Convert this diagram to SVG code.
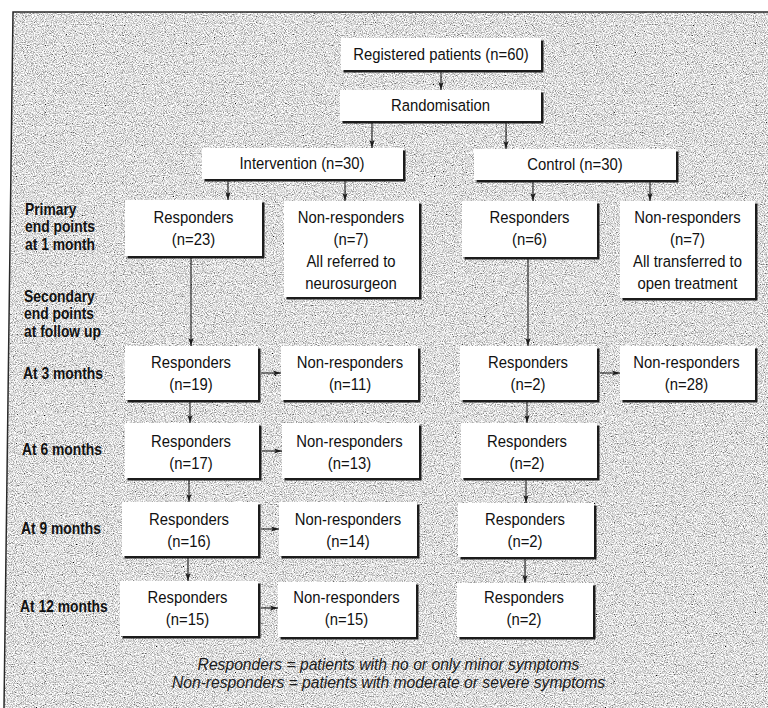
<svg xmlns="http://www.w3.org/2000/svg" width="768" height="708" viewBox="0 0 768 708">
<style>
  .bx{fill:#ffffff}
  .sh{fill:#1c1c1c}
  .t{font-family:"Liberation Sans",Arial,sans-serif;font-size:16.5px;fill:#111;text-anchor:middle}
  .lb{font-family:"Liberation Sans",Arial,sans-serif;font-size:16.5px;font-weight:bold;fill:#111}
  .fn{font-family:"Liberation Sans",Arial,sans-serif;font-size:16px;font-style:italic;fill:#1a1a1a;text-anchor:middle}
  .c line{stroke:#1c1c1c;stroke-width:1.1;fill:none;marker-end:url(#ah)}
</style>
<defs>
  <marker id="ah" viewBox="0 0 8 6" markerWidth="8" markerHeight="6" refX="8" refY="3" orient="auto" markerUnits="userSpaceOnUse">
    <path d="M0,0.4 L8,3 L0,5.6 L1.8,3 Z" fill="#1c1c1c"/>
  </marker>
  <filter id="grain" x="0" y="0" width="1" height="1">
    <feTurbulence type="fractalNoise" baseFrequency="0.9" numOctaves="2" seed="7" result="n"/>
    <feColorMatrix in="n" type="matrix" values="1.9 0 0 0 -0.22  1.9 0 0 0 -0.22  1.9 0 0 0 -0.22  0 0 0 0 1" result="g"/>
    <feComposite in="g" in2="SourceGraphic" operator="in"/>
  </filter>
</defs>
<rect width="768" height="708" fill="#ffffff"/>
<polygon points="13,12 768,12 768,708 4,708" fill="#bcbcbc" filter="url(#grain)"/>
<polyline points="4,708 13,12 768,12" fill="none" stroke="#2a2a2a" stroke-width="1.5"/>

<g id="labels">
  <text class="lb" transform="translate(25,0) scale(0.84,1)"><tspan x="0" y="215">Primary</tspan><tspan x="0" y="232.5">end points</tspan><tspan x="0" y="250">at 1 month</tspan></text>
  <text class="lb" transform="translate(24,0) scale(0.84,1)"><tspan x="0" y="302">Secondary</tspan><tspan x="0" y="319.5">end points</tspan><tspan x="0" y="337">at follow up</tspan></text>
  <text class="lb" transform="translate(23,0) scale(0.84,1)" x="0" y="379">At 3 months</text>
  <text class="lb" transform="translate(22,0) scale(0.84,1)" x="0" y="455">At 6 months</text>
  <text class="lb" transform="translate(21,0) scale(0.84,1)" x="0" y="534">At 9 months</text>
  <text class="lb" transform="translate(20,0) scale(0.84,1)" x="0" y="612">At 12 months</text>
</g>

<g id="connectors" class="c">
  <line x1="441" y1="72" x2="441" y2="90"/>
  <line x1="372" y1="123" x2="372" y2="148"/>
  <line x1="506" y1="123" x2="506" y2="149"/>
  <line x1="228" y1="180" x2="228" y2="200"/>
  <line x1="345" y1="180" x2="345" y2="201"/>
  <line x1="533" y1="182" x2="533" y2="201"/>
  <line x1="650" y1="182" x2="650" y2="201"/>
  <line x1="191" y1="258" x2="191" y2="346"/>
  <line x1="528" y1="258" x2="528" y2="346"/>
  <line x1="190" y1="402" x2="190" y2="423"/>
  <line x1="189" y1="480" x2="189" y2="502"/>
  <line x1="188" y1="558" x2="188" y2="581"/>
  <line x1="527" y1="402" x2="527" y2="423"/>
  <line x1="526" y1="480" x2="526" y2="503"/>
  <line x1="525" y1="558" x2="525" y2="583"/>
  <line x1="261" y1="373" x2="281" y2="373"/>
  <line x1="600" y1="373" x2="620" y2="373"/>
  <line x1="262" y1="451" x2="282" y2="451"/>
  <line x1="261" y1="529" x2="279" y2="529"/>
  <line x1="261" y1="608" x2="278" y2="608"/>
</g>

<g id="n_registered"><rect class="sh" x="343.5" y="40.5" width="200" height="32"/><rect class="bx" x="341" y="38" width="200" height="32"/>
  <text class="t" transform="translate(441,0) scale(0.9,1)" x="0" y="60">Registered patients (n=60)</text></g>
<g id="n_random"><rect class="sh" x="342.5" y="92.5" width="201" height="31"/><rect class="bx" x="340" y="90" width="201" height="31"/>
  <text class="t" transform="translate(440.5,0) scale(0.9,1)" x="0" y="111">Randomisation</text></g>
<g id="n_intervention"><rect class="sh" x="204.5" y="150.5" width="201" height="31"/><rect class="bx" x="202" y="148" width="201" height="31"/>
  <text class="t" transform="translate(302,0) scale(0.9,1)" x="0" y="169">Intervention (n=30)</text></g>
<g id="n_control"><rect class="sh" x="476.5" y="151.5" width="202" height="31"/><rect class="bx" x="474" y="149" width="202" height="31"/>
  <text class="t" transform="translate(575,0) scale(0.9,1)" x="0" y="170">Control (n=30)</text></g>

<g id="n_int_r1"><rect class="sh" x="127.5" y="202.5" width="137" height="56"/><rect class="bx" x="125" y="200" width="137" height="56"/>
  <text class="t" transform="translate(193.5,0) scale(0.9,1)"><tspan x="0" y="223">Responders</tspan><tspan x="0" y="245">(n=23)</tspan></text></g>
<g id="n_int_nr1"><rect class="sh" x="286.5" y="203.5" width="135" height="96"/><rect class="bx" x="284" y="201" width="135" height="96"/>
  <text class="t" transform="translate(351,0) scale(0.9,1)"><tspan x="0" y="223">Non-responders</tspan><tspan x="0" y="245">(n=7)</tspan><tspan x="0" y="267">All referred to</tspan><tspan x="0" y="289">neurosurgeon</tspan></text></g>
<g id="n_ctl_r1"><rect class="sh" x="464.5" y="203.5" width="135" height="56"/><rect class="bx" x="462" y="201" width="135" height="56"/>
  <text class="t" transform="translate(529.5,0) scale(0.9,1)"><tspan x="0" y="223">Responders</tspan><tspan x="0" y="245">(n=6)</tspan></text></g>
<g id="n_ctl_nr1"><rect class="sh" x="622.5" y="203.5" width="135" height="97"/><rect class="bx" x="620" y="201" width="135" height="97"/>
  <text class="t" transform="translate(687.5,0) scale(0.9,1)"><tspan x="0" y="223">Non-responders</tspan><tspan x="0" y="245">(n=7)</tspan><tspan x="0" y="267">All transferred to</tspan><tspan x="0" y="289">open treatment</tspan></text></g>

<g id="n_int_r3"><rect class="sh" x="127.5" y="348.5" width="133" height="54"/><rect class="bx" x="125" y="346" width="133" height="54"/>
  <text class="t" transform="translate(191,0) scale(0.9,1)"><tspan x="0" y="368">Responders</tspan><tspan x="0" y="390">(n=19)</tspan></text></g>
<g id="n_int_nr3"><rect class="sh" x="283.5" y="348.5" width="137" height="54"/><rect class="bx" x="281" y="346" width="137" height="54"/>
  <text class="t" transform="translate(350,0) scale(0.9,1)"><tspan x="0" y="368">Non-responders</tspan><tspan x="0" y="390">(n=11)</tspan></text></g>
<g id="n_ctl_r3"><rect class="sh" x="462.5" y="348.5" width="137" height="54"/><rect class="bx" x="460" y="346" width="137" height="54"/>
  <text class="t" transform="translate(528,0) scale(0.9,1)"><tspan x="0" y="368">Responders</tspan><tspan x="0" y="390">(n=2)</tspan></text></g>
<g id="n_ctl_nr3"><rect class="sh" x="622.5" y="348.5" width="135" height="54"/><rect class="bx" x="620" y="346" width="135" height="54"/>
  <text class="t" transform="translate(686.5,0) scale(0.9,1)"><tspan x="0" y="368">Non-responders</tspan><tspan x="0" y="390">(n=28)</tspan></text></g>

<g id="n_int_r6"><rect class="sh" x="127.5" y="425.5" width="134" height="55"/><rect class="bx" x="125" y="423" width="134" height="55"/>
  <text class="t" transform="translate(191,0) scale(0.9,1)"><tspan x="0" y="447">Responders</tspan><tspan x="0" y="469">(n=17)</tspan></text></g>
<g id="n_int_nr6"><rect class="sh" x="284.5" y="425.5" width="137" height="55"/><rect class="bx" x="282" y="423" width="137" height="55"/>
  <text class="t" transform="translate(349.5,0) scale(0.9,1)"><tspan x="0" y="447">Non-responders</tspan><tspan x="0" y="469">(n=13)</tspan></text></g>
<g id="n_ctl_r6"><rect class="sh" x="463.5" y="425.5" width="136" height="55"/><rect class="bx" x="461" y="423" width="136" height="55"/>
  <text class="t" transform="translate(527,0) scale(0.9,1)"><tspan x="0" y="447">Responders</tspan><tspan x="0" y="469">(n=2)</tspan></text></g>

<g id="n_int_r9"><rect class="sh" x="124.5" y="504.5" width="136" height="54"/><rect class="bx" x="122" y="502" width="136" height="54"/>
  <text class="t" transform="translate(189,0) scale(0.9,1)"><tspan x="0" y="525">Responders</tspan><tspan x="0" y="547">(n=16)</tspan></text></g>
<g id="n_int_nr9"><rect class="sh" x="281.5" y="504.5" width="138" height="54"/><rect class="bx" x="279" y="502" width="138" height="54"/>
  <text class="t" transform="translate(348,0) scale(0.9,1)"><tspan x="0" y="525">Non-responders</tspan><tspan x="0" y="547">(n=14)</tspan></text></g>
<g id="n_ctl_r9"><rect class="sh" x="460.5" y="505.5" width="136" height="54"/><rect class="bx" x="458" y="503" width="136" height="54"/>
  <text class="t" transform="translate(525,0) scale(0.9,1)"><tspan x="0" y="525">Responders</tspan><tspan x="0" y="547">(n=2)</tspan></text></g>

<g id="n_int_r12"><rect class="sh" x="122.5" y="583.5" width="138" height="55"/><rect class="bx" x="120" y="581" width="138" height="55"/>
  <text class="t" transform="translate(187.5,0) scale(0.9,1)"><tspan x="0" y="603">Responders</tspan><tspan x="0" y="625">(n=15)</tspan></text></g>
<g id="n_int_nr12"><rect class="sh" x="280.5" y="584.5" width="138" height="55"/><rect class="bx" x="278" y="582" width="138" height="55"/>
  <text class="t" transform="translate(346.5,0) scale(0.9,1)"><tspan x="0" y="603">Non-responders</tspan><tspan x="0" y="625">(n=15)</tspan></text></g>
<g id="n_ctl_r12"><rect class="sh" x="459.5" y="585.5" width="136" height="54"/><rect class="bx" x="457" y="583" width="136" height="54"/>
  <text class="t" transform="translate(524,0) scale(0.9,1)"><tspan x="0" y="603">Responders</tspan><tspan x="0" y="625">(n=2)</tspan></text></g>

<g id="footnote">
  <text class="fn" transform="translate(388.5,0) scale(0.98,1)"><tspan x="0" y="670">Responders = patients with no or only minor symptoms</tspan><tspan x="0" y="688">Non-responders = patients with moderate or severe symptoms</tspan></text>
</g>
</svg>
